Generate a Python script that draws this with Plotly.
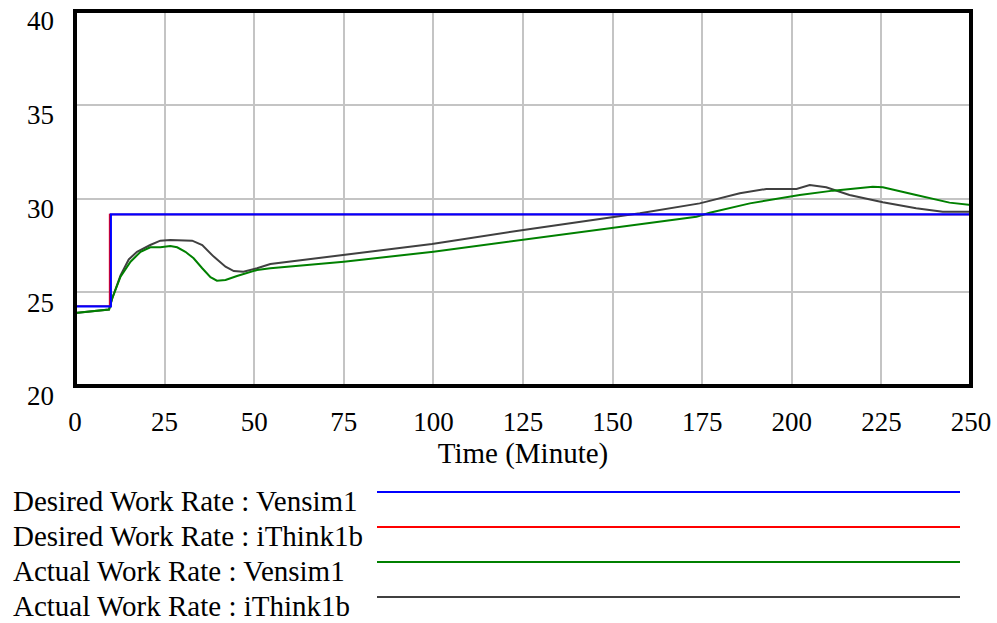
import plotly.graph_objects as go

# ---- data ----
desired_vensim_t = [0, 10, 250]
desired_vensim_v = [24.25, 29.15, 29.15]

desired_ithink_t = [0, 9.65, 250]
desired_ithink_v = [24.25, 29.15, 29.15]

actual_vensim_t = [0, 5, 9.5, 10.4, 12.7, 15.5, 18.3, 21, 23.8, 26.6, 28.5, 30.8, 33.1, 35.5,
                   37.8, 39.6, 42, 45.2, 48, 50.8, 54.5, 75, 100, 125, 146.5, 173.4, 177.1,
                   188.3, 202.2, 211.5, 222.6, 225.4, 234.7, 244, 250]
actual_vensim_v = [23.89, 23.98, 24.08, 24.68, 25.83, 26.63, 27.16, 27.40, 27.40, 27.47, 27.40,
                   27.16, 26.81, 26.28, 25.80, 25.62, 25.65, 25.87, 26.04, 26.19, 26.28, 26.63,
                   27.16, 27.79, 28.36, 29.03, 29.24, 29.74, 30.19, 30.42, 30.63, 30.60, 30.19,
                   29.78, 29.65]

actual_ithink_t = [0, 5, 9.5, 10.4, 12.7, 15, 17.3, 21, 23.8, 26.6, 32.7, 35.5, 38.7, 42, 44.3,
                   47, 50.8, 54.5, 74.9, 99.6, 125.1, 146.5, 157.6, 174.3, 185.5, 192.9, 201.3,
                   205, 209.6, 216.1, 225.4, 234.7, 242.1, 250]
actual_ithink_v = [23.89, 23.98, 24.08, 24.68, 25.9, 26.75, 27.16, 27.52, 27.75, 27.79, 27.75,
                   27.52, 26.90, 26.36, 26.13, 26.10, 26.28, 26.51, 26.99, 27.57, 28.32, 28.89,
                   29.21, 29.74, 30.28, 30.51, 30.51, 30.72, 30.60, 30.19, 29.80, 29.48, 29.30,
                   29.30]

series_names = ["Desired Work Rate : Vensim1", "Desired Work Rate : iThink1b",
                "Actual Work Rate : Vensim1", "Actual Work Rate : iThink1b"]
series_colors = ["#0000ff", "#ff0000", "#008000", "#404040"]

x_ticks = [0, 25, 50, 75, 100, 125, 150, 175, 200, 225, 250]
y_ticks = [20, 25, 30, 35, 40]
y_range = [20, 40]
x_title = "Time (Minute)"

# ---- layout geometry (pixels) ----
W, H = 997, 623
ML, MR, MT, MB = 75, 26, 11, 237
PW, PH = W - ML - MR, H - MT - MB
FONT = "Liberation Serif, Times New Roman, serif"


def px_x(p):
    return (p - ML) / PW


def px_y(p):
    return (H - MB - p) / PH


fig = go.Figure()
# draw order: gray, green, red, blue (blue on top)
fig.add_trace(go.Scatter(x=actual_ithink_t, y=actual_ithink_v, mode="lines",
                         line=dict(color=series_colors[3], width=2), name=series_names[3]))
fig.add_trace(go.Scatter(x=actual_vensim_t, y=actual_vensim_v, mode="lines",
                         line=dict(color=series_colors[2], width=2), name=series_names[2]))
fig.add_trace(go.Scatter(x=desired_ithink_t, y=desired_ithink_v, mode="lines",
                         line=dict(color=series_colors[1], width=1.5, shape="hv"),
                         name=series_names[1]))
fig.add_trace(go.Scatter(x=desired_vensim_t, y=desired_vensim_v, mode="lines",
                         line=dict(color=series_colors[0], width=2.2, shape="hv"),
                         name=series_names[0]))

annotations = []
shapes = [dict(type="rect", xref="paper", yref="paper", x0=0, x1=1, y0=0, y1=1,
               line=dict(color="black", width=4), layer="above")]
row_line_y = [492, 527, 562, 597]
for i, name in enumerate(series_names):
    annotations.append(dict(text=name, xref="paper", yref="paper",
                            x=px_x(11), y=px_y(row_line_y[i] + 27),
                            xanchor="left", yanchor="bottom", showarrow=False,
                            font=dict(family=FONT, size=29, color="black")))
    shapes.append(dict(type="line", xref="paper", yref="paper",
                       x0=px_x(377), x1=px_x(960), y0=px_y(row_line_y[i]),
                       y1=px_y(row_line_y[i]),
                       line=dict(color=series_colors[i], width=2)))

fig.update_layout(
    width=W, height=H,
    margin=dict(l=ML, r=MR, t=MT, b=MB, pad=0, autoexpand=False),
    paper_bgcolor="white", plot_bgcolor="white",
    showlegend=False,
    font=dict(family=FONT, size=27, color="black"),
    xaxis=dict(range=[0, 250], tickvals=x_ticks, ticktext=[str(v) for v in x_ticks],
               showgrid=True, gridcolor="#c4c4c4", gridwidth=2, zeroline=False,
               showline=False, ticks="", ticklabelstandoff=17, automargin=False,
               tickfont=dict(family=FONT, size=27, color="black"),
               title=dict(text=x_title, font=dict(family=FONT, size=29, color="black"),
                          standoff=0)),
    yaxis=dict(range=y_range, tickvals=y_ticks, ticktext=[str(v) for v in y_ticks],
               showgrid=True, gridcolor="#c4c4c4", gridwidth=2, zeroline=False,
               showline=False, ticks="", ticklabelstandoff=20, ticklabeloverflow="allow",
               ticklabelshift=10, automargin=False,
               tickfont=dict(family=FONT, size=27, color="black")),
    annotations=annotations,
    shapes=shapes,
)

fig.write_html("out.html")
